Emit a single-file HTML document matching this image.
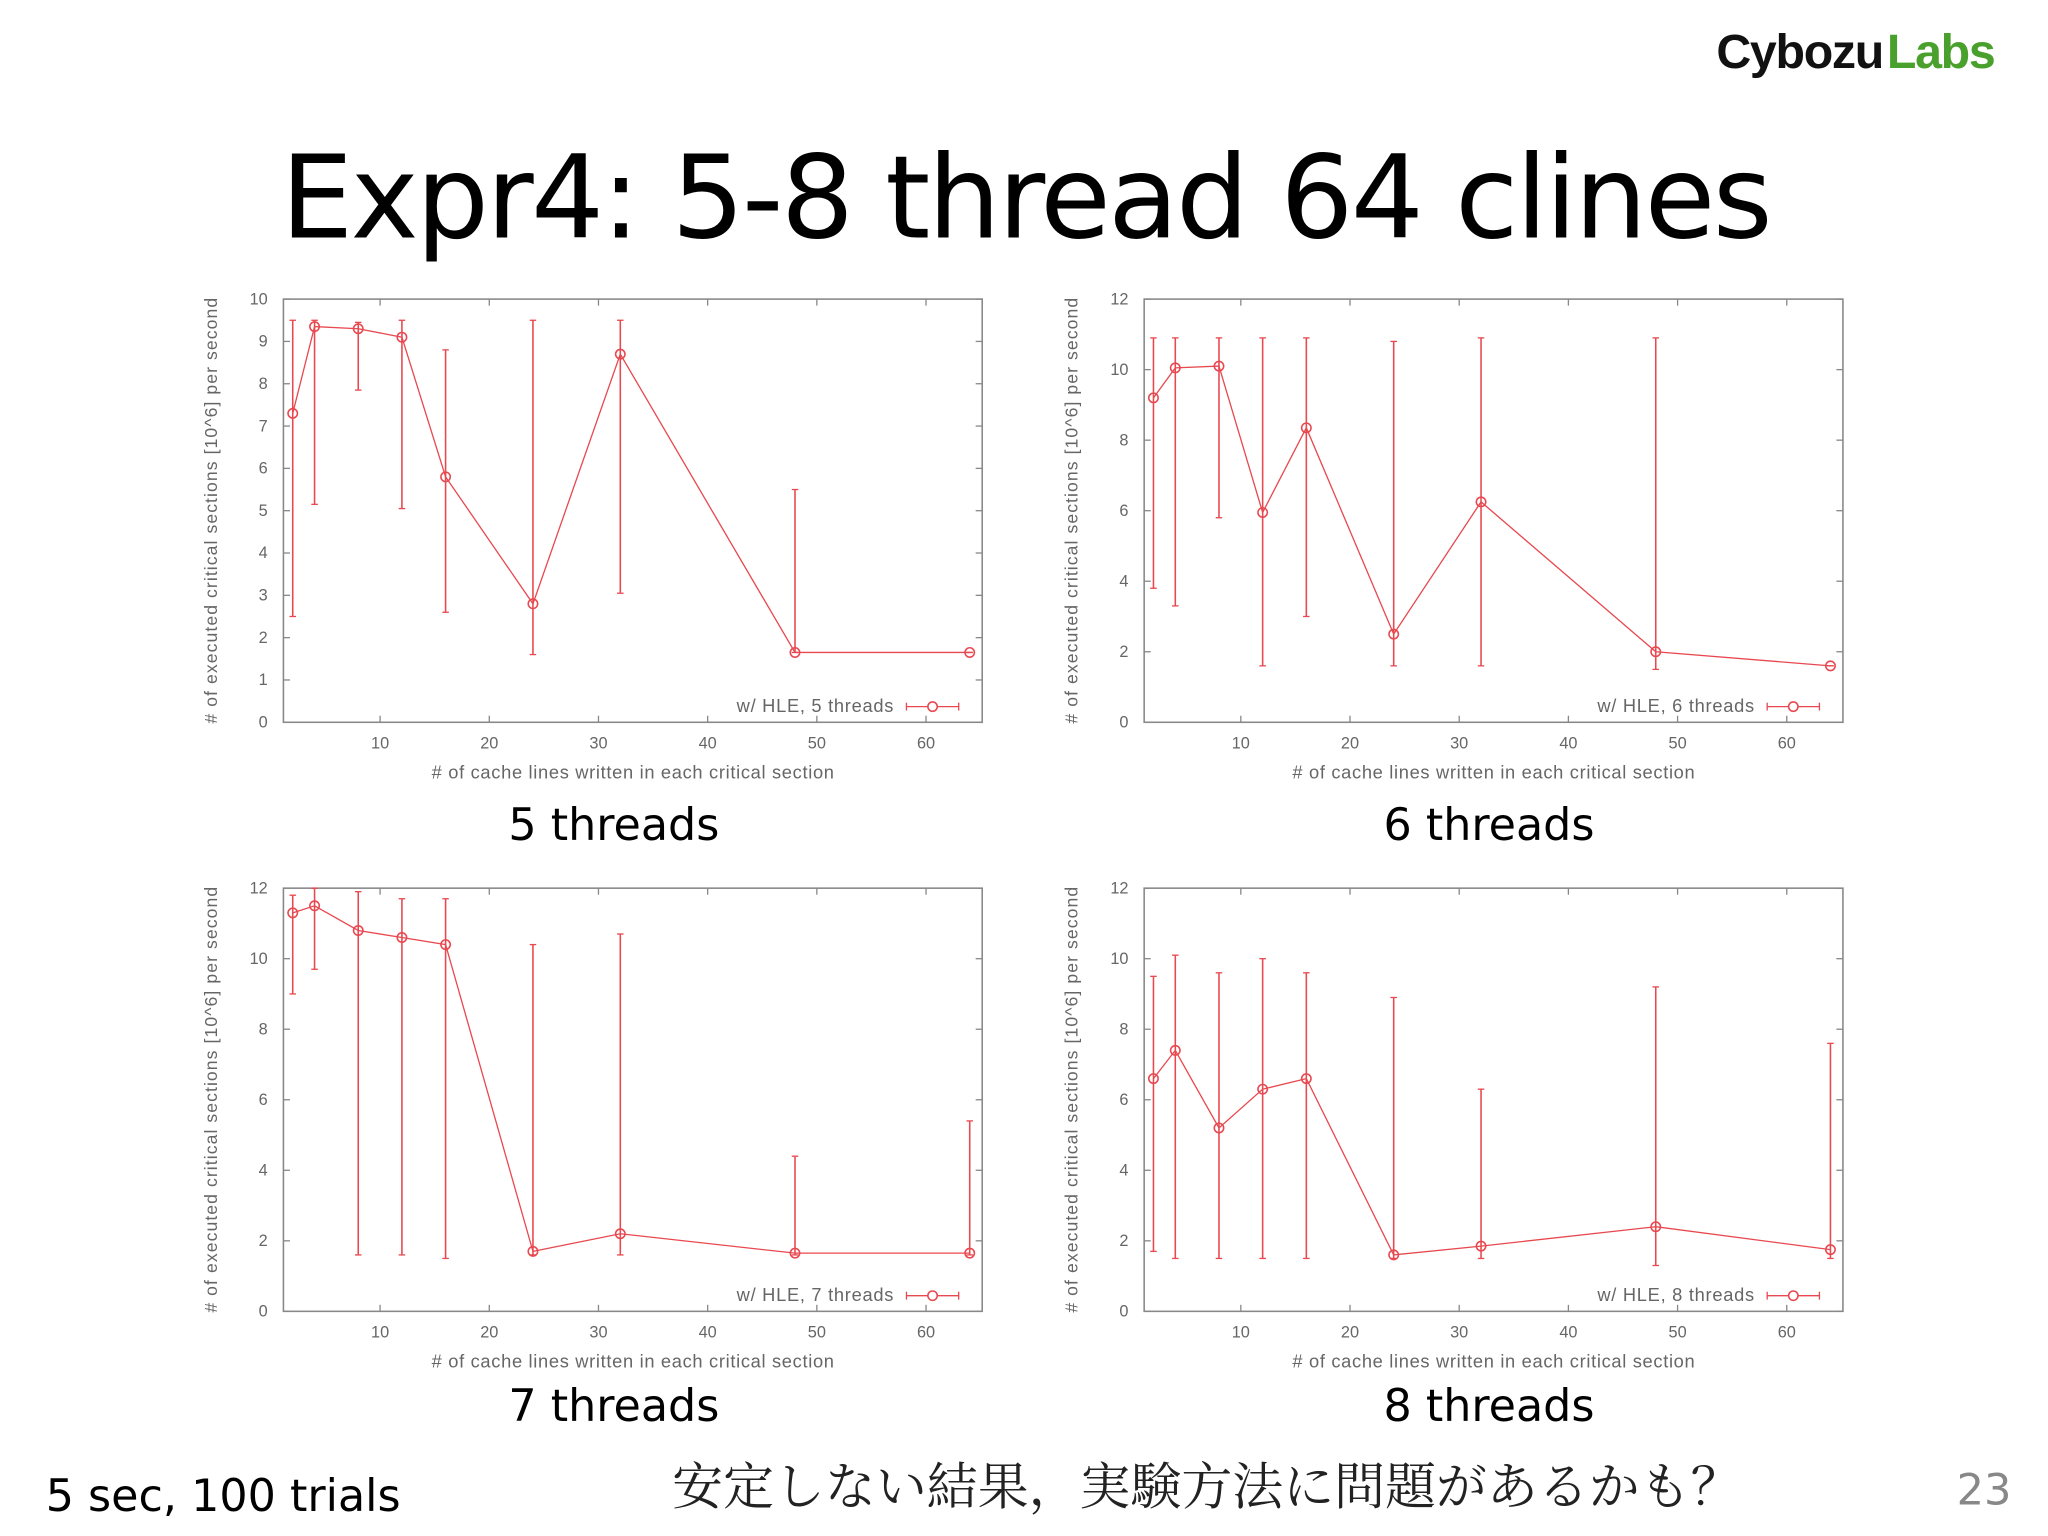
<!DOCTYPE html>
<html><head><meta charset="utf-8"><style>
html,body{margin:0;padding:0;background:#fff;}
svg{display:block;}
</style></head><body>
<svg id="slide" width="2048" height="1536" viewBox="0 0 1568 1176" xmlns="http://www.w3.org/2000/svg" font-family="Liberation Sans, sans-serif">
<rect width="1568" height="1176" fill="#fff"/>
<text x="1527" y="52" text-anchor="end" font-size="37" font-weight="bold" letter-spacing="-1"><tspan fill="#111">Cybozu</tspan><tspan fill="#4aa02c" dx="3">Labs</tspan></text>
<text x="785" y="182" text-anchor="middle" font-size="88" fill="#000" font-family="DejaVu Sans, sans-serif" letter-spacing="-2">Expr4: 5-8 thread 64 clines</text>
<g id="charts"></g>
<text x="470" y="643" text-anchor="middle" font-size="34" font-family="DejaVu Sans, sans-serif">5 threads</text>
<text x="1140" y="643" text-anchor="middle" font-size="34" font-family="DejaVu Sans, sans-serif">6 threads</text>
<text x="470" y="1088" text-anchor="middle" font-size="34" font-family="DejaVu Sans, sans-serif">7 threads</text>
<text x="1140" y="1088" text-anchor="middle" font-size="34" font-family="DejaVu Sans, sans-serif">8 threads</text>
<text x="35" y="1157" font-size="34" font-family="DejaVu Sans, sans-serif">5 sec, 100 trials</text>
<text x="924" y="1152" text-anchor="middle" font-size="39" font-family="Liberation Serif, Noto Serif CJK SC, serif" fill="#222">安定しない結果，実験方法に問題があるかも？</text>
<text x="1540" y="1152" text-anchor="end" font-size="33" fill="#888" font-family="DejaVu Sans, sans-serif">23</text>
</svg>
<script>
const xs = [2,4,8,12,16,24,32,48,64];
const xTicks = [10,20,30,40,50,60];
const v5 = [7.3,9.35,9.3,9.1,5.8,2.8,8.7,1.65,1.65];
const lo5 = [2.5,5.15,7.85,5.05,2.6,1.6,3.05,1.65,1.65];
const hi5 = [9.5,9.5,9.45,9.5,8.8,9.5,9.5,5.5,1.65];
const v6 = [9.2,10.05,10.1,5.95,8.35,2.5,6.25,2.0,1.6];
const lo6 = [3.8,3.3,5.8,1.6,3.0,1.6,1.6,1.5,1.6];
const hi6 = [10.9,10.9,10.9,10.9,10.9,10.8,10.9,10.9,1.6];
const v7 = [11.3,11.5,10.8,10.6,10.4,1.7,2.2,1.65,1.65];
const lo7 = [9.0,9.7,1.6,1.6,1.5,1.6,1.6,1.6,1.6];
const hi7 = [11.8,12,11.9,11.7,11.7,10.4,10.7,4.4,5.4];
const v8 = [6.6,7.4,5.2,6.3,6.6,1.6,1.85,2.4,1.75];
const lo8 = [1.7,1.5,1.5,1.5,1.5,1.5,1.5,1.3,1.5];
const hi8 = [9.5,10.1,9.6,10.0,9.6,8.9,6.3,9.2,7.6];
const yTicks10 = [0,1,2,3,4,5,6,7,8,9,10];
const yTicks12 = [0,2,4,6,8,10,12];

const NS = "http://www.w3.org/2000/svg";
const root = document.getElementById('charts');
function mk(tag, attrs, parent){const e=document.createElementNS(NS,tag);for(const k in attrs)e.setAttribute(k,attrs[k]);parent.appendChild(e);return e;}
const RED = "#e8484f";

function chart(name, L, T, W, H, ymax, yt, vals, lo, hi, label){
  const g = mk('g',{},root);
  
  
  const R=L+W, B=T+H;
  const kx = 418/50;
  const X = v => L + 74 + (v-10)*kx;
  const Y = v => B - v/ymax*H;
  const frame = mk('rect',{x:L,y:T,width:W,height:H,fill:'none',stroke:'#888','stroke-width':1.2},g);
  
  
  yt.forEach(t=>{
    const y=Y(t);
    mk('line',{x1:L,x2:L+5,y1:y,y2:y,stroke:'#888'},g);
    mk('line',{x1:R-5,x2:R,y1:y,y2:y,stroke:'#888'},g);
    const tx=mk('text',{x:L-12,y:y+4,'text-anchor':'end','font-size':12.5,fill:'#666'},g);
    tx.textContent=t;
    
    
  });
  xTicks.forEach(t=>{
    const x=X(t);
    mk('line',{x1:x,x2:x,y1:B,y2:B-5,stroke:'#888'},g);
    mk('line',{x1:x,x2:x,y1:T,y2:T+5,stroke:'#888'},g);
    const tx=mk('text',{x:x,y:B+20,'text-anchor':'middle','font-size':12.5,fill:'#666'},g);
    tx.textContent=t;
    
    
  });
  const xl=mk('text',{x:(L+R)/2,y:B+43,'text-anchor':'middle','font-size':14,fill:'#666','textLength':308},g);
  xl.textContent='# of cache lines written in each critical section';
  
  
  const yl=mk('text',{x:0,y:0,'text-anchor':'middle','font-size':13.5,fill:'#666','textLength':326,transform:`translate(${L-51},${(T+B)/2}) rotate(-90)`},g);
  yl.textContent='# of executed critical sections [10^6] per second';
  
  
  xs.forEach((x,i)=>{
    const px=X(x);
    const eb=mk('line',{x1:px,x2:px,y1:Y(lo[i]),y2:Y(hi[i]),stroke:RED,'stroke-width':1.2},g);
    
    
    mk('line',{x1:px-2.5,x2:px+2.5,y1:Y(lo[i]),y2:Y(lo[i]),stroke:RED},g);
    mk('line',{x1:px-2.5,x2:px+2.5,y1:Y(hi[i]),y2:Y(hi[i]),stroke:RED},g);
  });
  const pts = xs.map((x,i)=>X(x)+','+Y(vals[i])).join(' ');
  const pl=mk('polyline',{points:pts,fill:'none',stroke:RED,'stroke-width':1},g);
  
  
  xs.forEach((x,i)=>{
    const c=mk('circle',{cx:X(x),cy:Y(vals[i]),r:3.6,fill:'none',stroke:RED,'stroke-width':1.2},g);
    
    
  });
  const lg=mk('text',{x:R-68,y:B-8,'text-anchor':'end','font-size':14,fill:'#666','textLength':120},g);
  lg.textContent=label;
  
  
  mk('line',{x1:R-58,x2:R-18,y1:B-12,y2:B-12,stroke:RED},g);
  mk('line',{x1:R-58,x2:R-58,y1:B-15,y2:B-9,stroke:RED},g);
  mk('line',{x1:R-18,x2:R-18,y1:B-15,y2:B-9,stroke:RED},g);
  mk('circle',{cx:R-38,cy:B-12,r:3.6,fill:'#fff',stroke:RED,'stroke-width':1.2},g);
}
chart('chart-5-threads',217,229,535,324,10,yTicks10,v5,lo5,hi5,'w/ HLE, 5 threads');
chart('chart-6-threads',876,229,535,324,12,yTicks12,v6,lo6,hi6,'w/ HLE, 6 threads');
chart('chart-7-threads',217,680,535,324,12,yTicks12,v7,lo7,hi7,'w/ HLE, 7 threads');
chart('chart-8-threads',876,680,535,324,12,yTicks12,v8,lo8,hi8,'w/ HLE, 8 threads');
</script>
</body></html>
